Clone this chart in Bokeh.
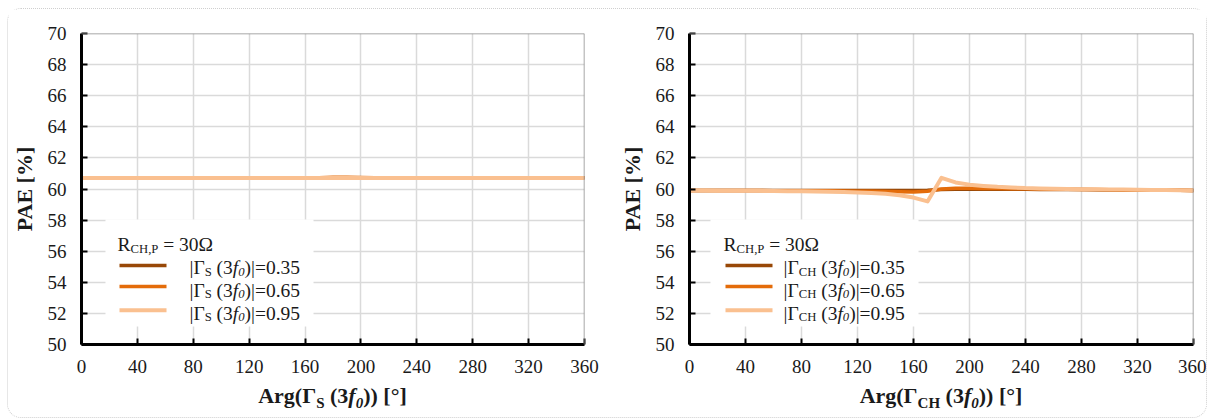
from bokeh.plotting import figure
from bokeh.models import Label, BoxAnnotation, FixedTicker, Div, LinearAxis, Grid, Span
from bokeh.layouts import row, column
from bokeh.embed import file_html
from bokeh.resources import INLINE

# ---------------- data ----------------
arg_deg = [0, 10, 20, 30, 40, 50, 60, 70, 80, 90, 100, 110, 120, 130, 140, 150, 160, 170, 180,
           190, 200, 210, 220, 230, 240, 250, 260, 270, 280, 290, 300, 310, 320, 330, 340, 350, 360]

# left panel: |Gamma_S(3f0)| sweeps
pae_s_035 = [60.72, 60.72, 60.72, 60.72, 60.72, 60.72, 60.72, 60.72, 60.72, 60.72, 60.72, 60.72, 60.72,
             60.72, 60.72, 60.72, 60.72, 60.72, 60.73, 60.73, 60.73, 60.72, 60.72, 60.72, 60.72, 60.72,
             60.72, 60.72, 60.72, 60.72, 60.72, 60.72, 60.72, 60.72, 60.72, 60.72, 60.72]
pae_s_065 = [60.72, 60.72, 60.72, 60.72, 60.72, 60.72, 60.72, 60.72, 60.72, 60.72, 60.72, 60.72, 60.72,
             60.72, 60.72, 60.72, 60.72, 60.73, 60.75, 60.76, 60.74, 60.73, 60.72, 60.72, 60.72, 60.72,
             60.72, 60.72, 60.72, 60.72, 60.72, 60.72, 60.72, 60.72, 60.72, 60.72, 60.72]
pae_s_095 = [60.71, 60.71, 60.71, 60.71, 60.71, 60.71, 60.71, 60.71, 60.71, 60.71, 60.71, 60.71, 60.71,
             60.71, 60.71, 60.71, 60.71, 60.71, 60.71, 60.71, 60.71, 60.71, 60.71, 60.71, 60.71, 60.71,
             60.71, 60.71, 60.71, 60.71, 60.71, 60.71, 60.71, 60.71, 60.71, 60.71, 60.71]

# right panel: |Gamma_CH(3f0)| sweeps
pae_ch_035 = [59.90, 59.90, 59.90, 59.90, 59.90, 59.90, 59.90, 59.90, 59.90, 59.90, 59.90, 59.90, 59.90,
              59.90, 59.90, 59.90, 59.90, 59.92, 59.96, 59.98, 59.99, 59.99, 59.99, 59.98, 59.98, 59.97,
              59.97, 59.96, 59.96, 59.95, 59.94, 59.94, 59.93, 59.93, 59.92, 59.92, 59.91]
pae_ch_065 = [59.90, 59.90, 59.90, 59.90, 59.90, 59.90, 59.89, 59.89, 59.89, 59.88, 59.88, 59.87, 59.86,
              59.85, 59.84, 59.82, 59.80, 59.86, 60.00, 60.05, 60.05, 60.04, 60.03, 60.02, 60.01, 60.00,
              59.99, 59.98, 59.97, 59.96, 59.95, 59.94, 59.93, 59.93, 59.92, 59.92, 59.91]
pae_ch_095 = [59.90, 59.90, 59.89, 59.89, 59.88, 59.88, 59.87, 59.86, 59.85, 59.84, 59.82, 59.80, 59.78,
              59.75, 59.70, 59.60, 59.45, 59.20, 60.72, 60.42, 60.28, 60.20, 60.14, 60.10, 60.06, 60.04,
              60.02, 60.00, 59.99, 59.98, 59.97, 59.96, 59.95, 59.94, 59.93, 59.92, 59.91]

mag_labels = ["0.35", "0.65", "0.95"]
colors = ["#984807", "#E46C0A", "#FAC090"]
x_ticks = [0, 40, 80, 120, 160, 200, 240, 280, 320, 360]
y_ticks = [50, 52, 54, 56, 58, 60, 62, 64, 66, 68, 70]
X_MIN, X_MAX = 0, 360
Y_MIN, Y_MAX = 50, 70

FONT = "Liberation Serif"
TXT = "#1a1a1a"

# approximate Times/Liberation Serif advance widths (per 1000 em)
W = {
    "n": {' ': 250, '|': 200, '(': 333, ')': 333, '=': 564, '.': 250, '0': 500, '3': 500, '5': 500,
          '6': 500, '9': 500, 'Γ': 578, 'S': 556, 'C': 667, 'H': 722, 'R': 667, 'P': 556, ',': 250,
          'Ω': 768},
    "i": {'f': 278, '0': 500},
}


def seg_width(text, kind, size):
    if kind == "sp":
        return 0.25 * size
    table = W["i" if "i" in kind else "n"]
    s = size * 0.65 if "s" in kind else size
    return sum(table.get(c, 500) for c in text) / 1000.0 * s


def rich(p, segs, x, y, size):
    cx = x
    for t, k in segs:
        if k != "sp":
            s = size * 0.65 if "s" in k else size
            dy = -0.22 * size if "s" in k else 0
            style = "italic" if "i" in k else "normal"
            p.add_layout(Label(x=cx, y=y + dy, x_units="screen", y_units="screen", text=t,
                               text_font=FONT, text_font_size=f"{s:.1f}px", text_font_style=style,
                               text_color=TXT, text_baseline="alphabetic", text_align="left"))
        cx += seg_width(t, k, size)


def make_axis(ticks, **extra):
    return LinearAxis(ticker=FixedTicker(ticks=ticks),
                      axis_line_color="black", axis_line_width=3,
                      major_tick_in=6, major_tick_out=0,
                      major_tick_line_color="black", major_tick_line_width=2,
                      minor_tick_line_color=None,
                      major_label_text_font=FONT, major_label_text_font_size="19px",
                      major_label_text_color=TXT, major_label_standoff=15, **extra)


def make_panel(series, sub, border_left, frame_w, border_right, leg):
    p = figure(frame_width=frame_w, frame_height=311, x_range=(X_MIN, X_MAX), y_range=(Y_MIN, Y_MAX),
               min_border_left=border_left, min_border_right=border_right,
               min_border_top=24, min_border_bottom=40,
               x_axis_location=None, y_axis_location=None,
               output_backend="svg", toolbar_location=None, background_fill_color="white",
               border_fill_color="white")
    p.outline_line_color = None
    p.grid.visible = False

    p.add_layout(Grid(dimension=0, ticker=FixedTicker(ticks=x_ticks),
                      grid_line_color="#dadada", grid_line_width=1.5))
    p.add_layout(Grid(dimension=1, ticker=FixedTicker(ticks=y_ticks),
                      grid_line_color="#dadada", grid_line_width=1.5))
    # top / right frame lines (grey)
    p.add_layout(Span(location=Y_MAX, dimension="width", line_color="#8a8a8a", line_width=1.5))
    p.add_layout(Span(location=X_MAX, dimension="height", line_color="#8a8a8a", line_width=1.5))

    widths = [3.5, 3.5, 4]
    for ys, c, w in zip(series, colors, widths):
        p.line(arg_deg, ys, line_color=c, line_width=w, line_join="round", line_cap="round")

    p.add_layout(make_axis(x_ticks), "below")
    p.add_layout(make_axis(y_ticks, axis_label="PAE [%]", axis_label_text_font=FONT,
                           axis_label_text_font_style="bold", axis_label_text_font_size="22px",
                           axis_label_text_color=TXT, axis_label_standoff=8), "left")

    # legend (manual, to keep sub-/italic formatting)
    p.add_layout(BoxAnnotation(left=leg["box"][0], right=leg["box"][1], top=125, bottom=18,
                               left_units="screen", right_units="screen",
                               top_units="screen", bottom_units="screen",
                               fill_color="white", fill_alpha=1.0, line_color=None))
    rich(p, [("R", "n"), ("CH,P", "s"), (" ", "sp"), ("=", "n"), (" ", "sp"), ("30Ω", "n")],
         leg["title_x"], 100, 19.5)
    sw_y = [79, 58, 34.3]
    tx_y = [77, 54.3, 31.5]
    for c, w, sy, ty, m in zip(colors, widths, sw_y, tx_y, mag_labels):
        p.add_layout(BoxAnnotation(left=leg["sw"][0], right=leg["sw"][1], top=sy + w / 2,
                                   bottom=sy - w / 2, left_units="screen", right_units="screen",
                                   top_units="screen", bottom_units="screen",
                                   fill_color=c, fill_alpha=1.0, line_color=None))
        rich(p, [("|Γ", "n"), (sub, "s"), (" ", "sp"), ("(3", "n"), ("f", "i"), ("0", "is"),
                 (")|=" + m, "n")], leg["text_x"], ty, 19.5)

    # x-axis title (HTML, for subscripts / italics)
    html = (f'<div style="margin-left:{border_left}px;width:{frame_w}px;text-align:center;'
            f"font-family:'{FONT}';font-size:22px;font-weight:bold;color:{TXT};line-height:24px;\">"
            f'Arg(Γ<sub style="font-size:15px;line-height:0;">{sub}</sub> '
            f'(3<i>f</i><sub style="font-size:15px;line-height:0;"><i>0</i></sub>)) [°]</div>')
    title = Div(text=html, width=border_left + frame_w + border_right, height=33, margin=(0, 0, 0, 0))
    return column(p, title, margin=(0, 0, 0, 0))


p1 = make_panel([pae_s_035, pae_s_065, pae_s_095], "S", 73, 503, 23,
                {"box": (24, 232), "sw": (38, 85), "text_x": 108, "title_x": 36})
p2 = make_panel([pae_ch_035, pae_ch_065, pae_ch_095], "CH", 82, 504, 13,
                {"box": (21, 229), "sw": (36, 83), "text_x": 94, "title_x": 34})

layout = row(p1, p2, margin=(8, 0, 0, 7),
             styles={"border": "1px dotted #cfcfcf", "border-radius": "14px",
                     "background-color": "white"})

open("out.html", "w").write(file_html(layout, INLINE))
